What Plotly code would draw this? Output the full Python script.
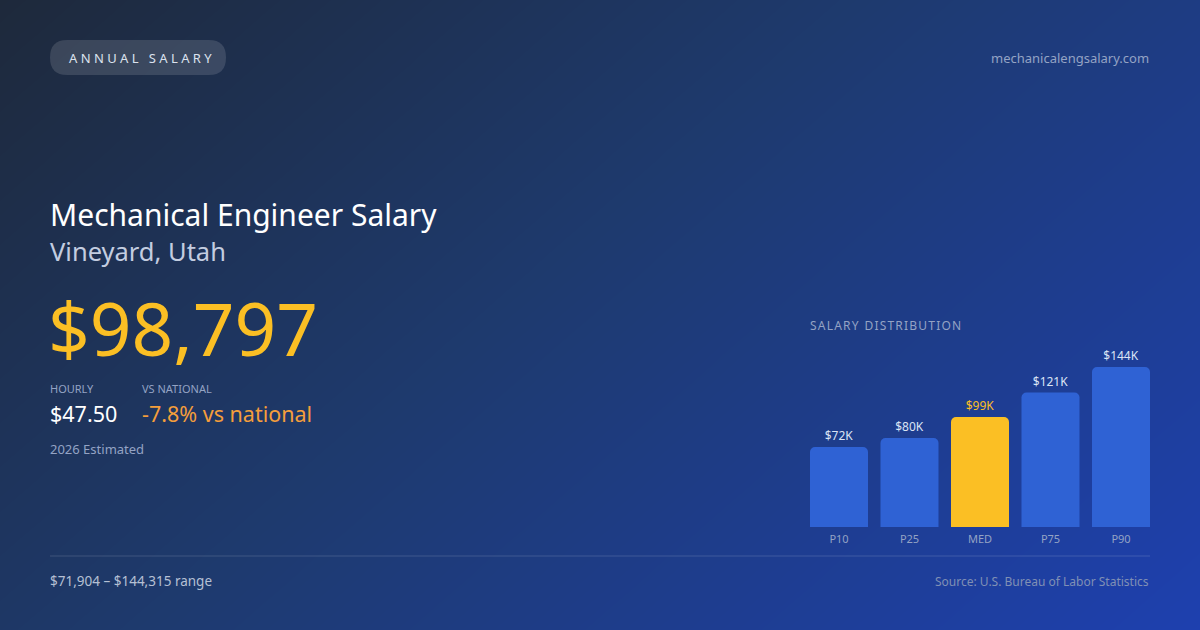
import numpy as np
import plotly.graph_objects as go

W, H = 1200, 630

# data
percentiles = ["P10", "P25", "MED", "P75", "P90"]
salaries_k = [72, 80, 99, 121, 144]
bar_labels = ["$72K", "$80K", "$99K", "$121K", "$144K"]
bar_colors = ["#2f62d4", "#2f62d4", "#fbbf24", "#2f62d4", "#2f62d4"]
label_colors = ["#dbe4f5", "#dbe4f5", "#fbbf24", "#dbe4f5", "#dbe4f5"]

# background gradient (styling only)
gx = np.linspace(0, 1, 60)
gy = np.linspace(0, 1, 40)
GX, GY = np.meshgrid(gx, gy)
grad = (GX * 0.75 + (1 - GY) * 0.45) / 1.2

fig = go.Figure()
fig.add_trace(go.Heatmap(
    z=grad, x=gx, y=gy, showscale=False, hoverinfo="skip",
    colorscale=[[0, "#1e293b"], [0.45, "#1e3a6e"], [1, "#1e40af"]], zsmooth="best"
))
fig.add_trace(go.Bar(
    x=percentiles, y=salaries_k, xaxis="x2", yaxis="y2",
    marker=dict(color=bar_colors, cornerradius=5, line_width=0),
    text=bar_labels, textposition="outside", cliponaxis=False,
    textfont=dict(color=label_colors, size=12, family="Noto Sans"), hoverinfo="skip"
))

def px(x):
    return x / W

def py(y):
    return 1 - y / H

def note(x, y, text, size, color, anchor="left", family="Noto Sans"):
    shift = -2 if anchor == "left" else 2
    fig.add_annotation(x=px(x + shift), y=py(y), xref="paper", yref="paper", text=text,
                       showarrow=False, xanchor=anchor, yanchor="middle",
                       font=dict(size=size, color=color, family=family))

# pill
r = 17
x0, x1, y0, y1 = px(50), px(226), py(40), py(75)
fig.add_shape(type="path", xref="paper", yref="paper", line_width=0,
              fillcolor="rgba(255,255,255,0.13)",
              path=f"M {px(50+r)} {y0} L {px(226-r)} {y0} Q {x1} {y0} {x1} {py(57.5)} "
                   f"Q {x1} {y1} {px(226-r)} {y1} L {px(50+r)} {y1} Q {x0} {y1} {x0} {py(57.5)} "
                   f"Q {x0} {y0} {px(50+r)} {y0} Z")
note(138, 58, "A N N U A L   S A L A R Y", 13, "#dbe2ee", "center")
note(1149, 58, "mechanicalengsalary.com", 13, "#94a3c4", "right")

note(50, 214, "Mechanical Engineer Salary", 30, "#ffffff")
note(50, 251, "Vineyard, Utah", 25.5, "#c3cde0")
note(48, 327, "$98,797", 73, "#fbbf24")
note(50, 388, "HOURLY", 11, "#94a3c4")
note(142, 388, "VS NATIONAL", 11, "#94a3c4")
note(50, 413, "$47.50", 21.5, "#ffffff")
note(142, 413, "-7.8% vs national", 21.5, "#f59e3b")
note(50, 449, "2026 Estimated", 13, "#94a3c4")
note(810, 325, "S A L A R Y   D I S T R I B U T I O N".replace("   ", "\u2002").replace(" ", "\u200a"), 12, "#94a3c4")
note(50, 581, "$71,904 – $144,315 range", 13.5, "#b6c0d4")
note(1149, 581, "Source: U.S. Bureau of Labor Statistics", 12, "#8090b4", "right")

fig.add_shape(type="line", xref="paper", yref="paper", x0=px(50), x1=px(1150),
              y0=py(556), y1=py(556), line=dict(color="rgba(255,255,255,0.15)", width=1))

fig.update_layout(
    width=W, height=H, margin=dict(l=0, r=0, t=0, b=0),
    paper_bgcolor="#1e293b", plot_bgcolor="rgba(0,0,0,0)", showlegend=False, bargap=0.177,
    xaxis=dict(domain=[0, 1], range=[0, 1], visible=False),
    yaxis=dict(domain=[0, 1], range=[0, 1], visible=False),
    xaxis2=dict(domain=[px(803.75), px(1156.25)], anchor="y2", showgrid=False, zeroline=False,
                showline=False, tickfont=dict(size=11, color="#94a3c4", family="Noto Sans"),
                ticks="", ticklen=0, ticklabelstandoff=4),
    yaxis2=dict(domain=[py(527), py(527 - 150 * 160 / 144)], range=[0, 150], anchor="x2",
                visible=False),
)
fig.write_html("out.html", config={"displayModeBar": False},
               post_script="document.body.style.margin='0';")
